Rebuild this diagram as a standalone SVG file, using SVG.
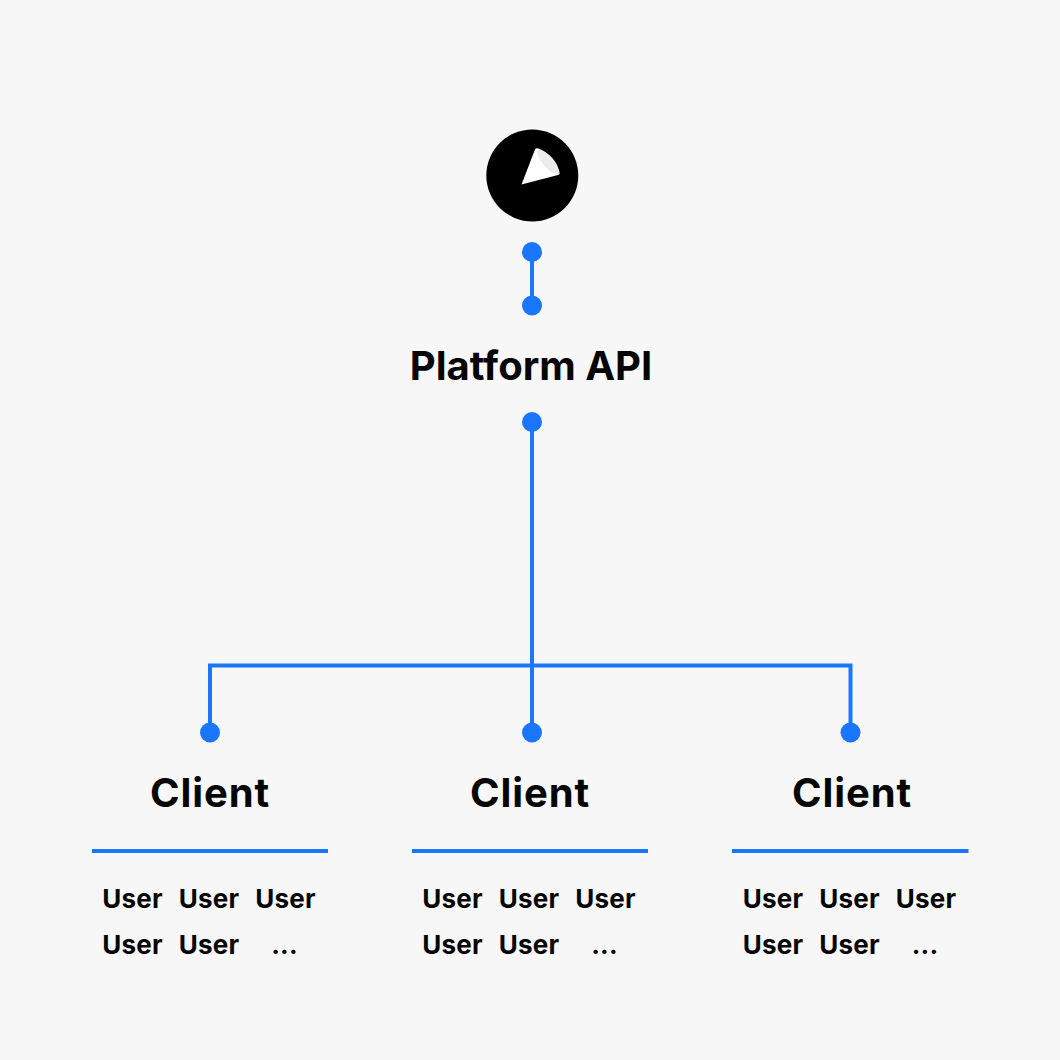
<svg xmlns="http://www.w3.org/2000/svg" width="1060" height="1060" viewBox="0 0 1060 1060">
<style>
text{font-family:"Inter","Liberation Sans",sans-serif;font-weight:700;fill:#050505}
.p{font-size:40px;text-anchor:middle}
.h{font-size:40px;text-anchor:middle;letter-spacing:.9px}
.u{font-size:26px;text-anchor:middle;letter-spacing:.2px}
.l{fill:none;stroke:#1a75ff;stroke-width:4}
.d{fill:#1a75ff}
</style>
<defs>
<g id="users">
<text class="u" x="132.500" y="908">User</text><text class="u" x="209" y="908">User</text><text class="u" x="285.500" y="908">User</text>
<text class="u" x="132.500" y="954">User</text><text class="u" x="209" y="954">User</text><text class="u" x="284.500" y="954">...</text>
</g>
</defs>
<rect width="1060" height="1060" fill="#f7f7f7"/>
<g id="connectors">
<path class="l" d="M532 252V305"/>
<path class="l" d="M532 422V732"/>
<path class="l" d="M210 732V665.500H850.500V732"/>
<path class="l" d="M92 851H328"/>
<path class="l" d="M412 851H648"/>
<path class="l" d="M732 851H968.500"/>
<circle class="d" cx="532" cy="252" r="10"/>
<circle class="d" cx="532" cy="305.500" r="10"/>
<circle class="d" cx="532" cy="422" r="10"/>
<circle class="d" cx="210" cy="732.500" r="10"/>
<circle class="d" cx="532" cy="732.500" r="10"/>
<circle class="d" cx="850.500" cy="732.500" r="10"/>
</g>
<g id="logo">
<circle cx="532.300" cy="175.500" r="46" fill="#000"/>
<path d="M521.500 184.500L535 149.500Q536 147.500 538.500 148.500Q556 156 559.500 172.500Q560 174.700 558 175Z" fill="#fff"/>
<path d="M536.500 151Q541 149 546 153Q556 161 559.500 174Q552 173.500 548 169.500Q539 161 536.500 151Z" fill="#ececec"/>
</g>
<g id="platform-api"><text class="p" x="531" y="380">Platform API</text></g>
<g id="client-1"><text class="h" x="210" y="807">Client</text><use href="#users"/></g>
<g id="client-2"><text class="h" x="530" y="807">Client</text><use href="#users" x="320"/></g>
<g id="client-3"><text class="h" x="852" y="807">Client</text><use href="#users" x="640.500"/></g>
</svg>
